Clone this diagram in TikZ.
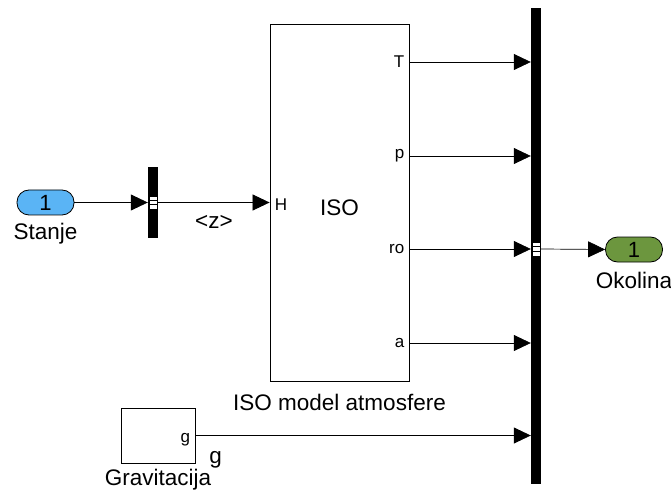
\documentclass[tikz,border=0pt]{standalone}
\usepackage{fontspec}
\setmainfont{Liberation Sans}
\usetikzlibrary{positioning, calc, arrows.meta}
\definecolor{inblue}{RGB}{90,180,245}
\definecolor{outgreen}{RGB}{108,150,62}
\newcommand{\portlbl}[1]{{\fontsize{17}{19}\selectfont #1}}

\begin{document}
\begin{tikzpicture}[x=1pt, y=-1pt,
			block/.style={
					rectangle, draw, fill=white, line width=0.8pt, inner sep=0pt
				},
			port/.style={
					rectangle, draw, rounded corners=12pt, line width=0.8pt,
					minimum width=57pt, minimum height=25pt, inner sep=0pt,
					font=\fontsize{22}{24}\selectfont
				},
			busbar/.style={
					rectangle, fill=black, inner sep=0pt, minimum width=10pt
				},
			lbl/.style={font=\fontsize{22.5}{24}\selectfont, inner sep=1pt},
			sig/.style={-{Triangle[length=17pt,width=16pt]}, line width=0.7pt},
			node distance=4pt
		]
		\useasboundingbox (0,0) rectangle (671,494);

		% Inport and bus selector
		\node[port, fill=inblue] (in) at (45.5,202.5) {1};
		\node[lbl, below=7pt of in] (inlbl) {Stanje};
		\node[busbar, minimum height=71pt] (sel) at (153,202.5) {};
		\node[block, minimum width=8pt, minimum height=13pt] (selmark) at (sel.center) {};
		\draw[line width=0.5pt] ([yshift=-2pt]selmark.west) -- ([yshift=-2pt]selmark.east)
			([yshift=2pt]selmark.west) -- ([yshift=2pt]selmark.east);

		% ISO block
		\node[block, minimum width=139pt, minimum height=357pt] (iso) at (339.5,202.5) {};
		\node[lbl] (isoname) at ([yshift=-5pt]iso.center) {ISO};
		\node[lbl, below=12pt of iso] (isolbl) {ISO model atmosfere};
		\node[anchor=west, inner sep=0pt] (isoH) at ([xshift=5pt,yshift=-2pt]iso.west) {\portlbl{H}};
		\coordinate (oT) at (iso.east |- 0,62);
		\coordinate (op) at (iso.east |- 0,156);
		\coordinate (oro) at (iso.east |- 0,249);
		\coordinate (oa) at (iso.east |- 0,343);
		\foreach \c/\t in {oT/T, op/p, oro/ro, oa/a}
		\node[anchor=east, inner sep=0pt] at ([xshift=-5pt]\c) {\portlbl{\t}};

		% Gravitacija
		\node[block, minimum width=74pt, minimum height=55pt] (grav) at (158,435.5) {};
		\node[anchor=east, inner sep=0pt] (gravg) at ([xshift=-5pt,yshift=-4pt]grav.east) {\portlbl{g}};
		\node[lbl, below=5pt of grav] (gravlbl) {Gravitacija};

		% Bus creator and outport
		\node[busbar, minimum height=476pt] (bus) at (536,246) {};
		\node[block, minimum width=8pt, minimum height=14pt] (busmark) at (bus.center |- 0,249) {};
		\draw[line width=0.5pt] ([yshift=-2.5pt]busmark.west) -- ([yshift=-2.5pt]busmark.east)
			([yshift=2.5pt]busmark.west) -- ([yshift=2.5pt]busmark.east);
		\node[port, fill=outgreen] (out) at (634,249.5) {1};
		\node[lbl, below=9pt of out] (outlbl) {Okolina};

		% Signals
		\draw[sig] (in) -- (sel);
		\draw[sig] (sel.east) -- (sel.east -| iso.west) node[lbl, midway, below=12pt] {<z>};
		\foreach \c in {oT, op, oro, oa}
		\draw[sig] (\c) -- (\c -| bus.west);
		\draw[sig] (grav.east) -- (grav.east -| bus.west) node[lbl, pos=0.06, below=15pt] {g};
		\draw[sig] (busmark.east -| bus.east) -- (out.west);
	\end{tikzpicture}
\end{document}
